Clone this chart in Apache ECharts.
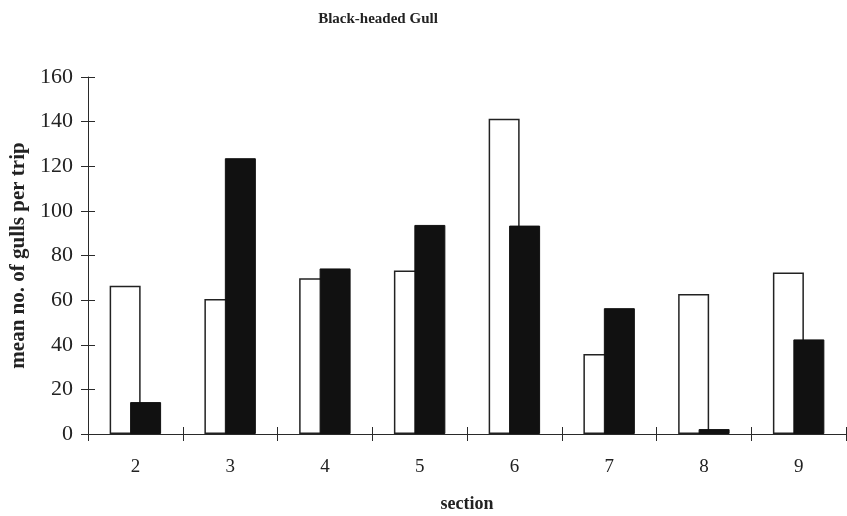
<!DOCTYPE html>
<html>
<head>
<meta charset="utf-8">
<script src="https://cdn.jsdelivr.net/npm/echarts@6/dist/echarts.min.js"></script>
<style>
  html, body { margin: 0; padding: 0; background: #fff; }
  #chart { width: 847px; height: 516px; }
</style>
</head>
<body>
<div id="chart"></div>
<script>
const sections = ['2', '3', '4', '5', '6', '7', '8', '9']
// open bars and filled bars
const openBars = [66.4, 60.5, 69.8, 73.3, 141.3, 35.9, 62.8, 72.4]
const filledBars = [14.3, 123.6, 74.2, 93.7, 93.4, 56.4, 2.2, 42.4]
const yTicks = { min: 0, max: 160, step: 20 }

const serif = '"Liberation Serif", "DejaVu Serif", serif'
const ink = '#2a2a2a'

const chart = echarts.init(document.getElementById('chart'))
chart.setOption({
  backgroundColor: '#fff',
  animation: false,
  title: {
    text: 'Black-headed Gull',
    left: 373,
    textAlign: 'center',
    top: 7,
    textStyle: { fontFamily: serif, fontSize: 15, fontWeight: 'bold', color: '#222' },
  },
  grid: { left: 88, right: 1, top: 77, bottom: 82, outerBoundsMode: 'none' },
  xAxis: [{
    type: 'category',
    data: sections,
    name: 'section',
    nameLocation: 'middle',
    nameGap: 61,
    nameTextStyle: { fontFamily: serif, fontSize: 18, fontWeight: 'bold', color: '#222' },
    axisLine: { lineStyle: { color: ink, width: 1 } },
    axisTick: { show: true, length: 7, lineStyle: { color: ink } },
    axisLabel: { fontFamily: serif, fontSize: 19, color: '#222', margin: 24 },
  }, {
    // inner half of the crossing ticks
    type: 'category',
    data: sections,
    position: 'bottom',
    axisLine: { show: false },
    axisTick: { show: true, inside: true, length: 7, lineStyle: { color: ink } },
    axisLabel: { show: false },
  }],
  yAxis: [{
    type: 'value',
    min: yTicks.min,
    max: yTicks.max,
    interval: yTicks.step,
    name: 'mean no. of gulls per trip',
    nameLocation: 'middle',
    nameGap: 53,
    nameTextStyle: { fontFamily: serif, fontSize: 21, fontWeight: 'bold', color: '#222' },
    axisLine: { show: true, lineStyle: { color: ink, width: 1 } },
    axisTick: { show: true, length: 7, lineStyle: { color: ink } },
    axisLabel: { fontFamily: serif, fontSize: 22, color: '#222', margin: 15 },
    splitLine: { show: false },
  }, {
    type: 'value',
    min: yTicks.min,
    max: yTicks.max,
    interval: yTicks.step,
    position: 'left',
    axisLine: { show: false },
    axisTick: { show: true, inside: true, length: 7, lineStyle: { color: ink } },
    axisLabel: { show: false },
    splitLine: { show: false },
  }],
  series: [{
    name: 'open',
    type: 'bar',
    data: openBars,
    barWidth: 31,
    barGap: '-34%',
    itemStyle: { color: '#fff', borderColor: '#222', borderWidth: 1.5 },
  }, {
    name: 'filled',
    type: 'bar',
    data: filledBars,
    barWidth: 31,
    barGap: '-34%',
    itemStyle: { color: '#111', borderColor: '#111', borderWidth: 1 },
  }],
})
window.addEventListener('resize', () => chart.resize())
</script>
</body>
</html>
